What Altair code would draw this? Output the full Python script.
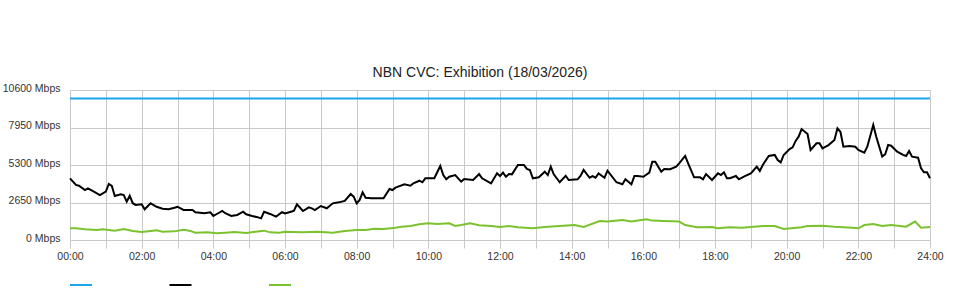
import altair as alt
import pandas as pd

# ---- data ----
series_names = ["Capacity", "Download", "Upload"]
series_colors = ["#1ba6ec", "#000000", "#7bc22e"]

capacity_times = ["00:00", "24:00"]
capacity_vals = [10000, 10000]

download_times = [
    "00:00", "00:10", "00:15", "00:25", "00:30", "00:40", "00:50", "01:00", "01:05", "01:10",
    "01:15", "01:25", "01:30", "01:35", "01:40", "01:45", "01:50", "02:00", "02:05", "02:15",
    "02:25", "02:35", "02:45", "02:55", "03:00", "03:10", "03:25", "03:30", "03:45", "03:55",
    "04:00", "04:05", "04:15", "04:20", "04:30", "04:40", "04:50", "04:55", "05:05", "05:15",
    "05:20", "05:25", "05:35", "05:45", "05:55", "06:00", "06:10", "06:15", "06:20", "06:30",
    "06:40", "06:45", "06:50", "07:00", "07:10", "07:20", "07:30", "07:40", "07:50", "07:55",
    "08:00", "08:05", "08:10", "08:15", "08:25", "08:45", "08:55", "09:00", "09:05", "09:20",
    "09:30", "09:35", "09:45", "09:50", "09:55", "10:10", "10:20", "10:25", "10:30", "10:35",
    "10:45", "10:55", "11:00", "11:15", "11:25", "11:30", "11:45", "11:55", "12:00", "12:05",
    "12:10", "12:15", "12:20", "12:30", "12:40", "12:45", "12:50", "12:55", "13:05", "13:15",
    "13:20", "13:25", "13:30", "13:40", "13:50", "13:55", "14:10", "14:15", "14:20", "14:30",
    "14:35", "14:40", "14:45", "14:55", "15:00", "15:15", "15:25", "15:30", "15:40", "15:45",
    "15:50", "16:00", "16:10", "16:15", "16:20", "16:30", "16:35", "16:45", "16:55", "17:00",
    "17:10", "17:15", "17:25", "17:35", "17:40", "17:45", "17:55", "18:05", "18:10", "18:15",
    "18:20", "18:25", "18:35", "18:40", "18:50", "19:00", "19:10", "19:15", "19:20", "19:30",
    "19:40", "19:45", "19:50", "19:55", "20:05", "20:10", "20:15", "20:20", "20:25", "20:35",
    "20:40", "20:50", "20:55", "21:00", "21:10", "21:20", "21:25", "21:30", "21:35", "21:45",
    "21:55", "22:00", "22:10", "22:15", "22:25", "22:30", "22:40", "22:45", "22:50", "22:55",
    "23:05", "23:15", "23:20", "23:25", "23:30", "23:40", "23:45", "23:50", "23:55", "24:00",
]
download_vals = [
    4360, 3890, 3840, 3530, 3650, 3415, 3180, 3415, 3960, 3820,
    3110, 3230, 3180, 2710, 3130, 2600, 2475, 2520, 2170, 2590,
    2350, 2210, 2170, 2280, 2350, 2120, 2120, 1960, 1890, 1960,
    1700, 1820, 2050, 1890, 1700, 1770, 2000, 1820, 1700, 1600,
    1530, 2000, 1840, 1650, 1960, 1870, 2000, 2070, 2520, 2050,
    2310, 2240, 2120, 2400, 2240, 2590, 2660, 2760, 3250, 3060,
    2590, 2830, 3370, 2990, 2950, 2950, 3600, 3530, 3700, 3930,
    3840, 4010, 4190, 4080, 4360, 4360, 5230, 4590, 4290, 4470,
    4590, 4120, 4310, 4240, 4660, 4360, 4000, 4710, 4520, 4760,
    4470, 4660, 4640, 5300, 5300, 5020, 4950, 4360, 4430, 4830,
    4590, 5180, 4640, 4080, 4540, 4240, 4290, 4540, 4950, 4400,
    4520, 4400, 4710, 4400, 4900, 4080, 3940, 4290, 3940, 4520,
    4520, 4470, 4760, 5530, 5530, 4830, 5020, 5000, 5180, 5420,
    5940, 5420, 4430, 4430, 4290, 4660, 4240, 4710, 4590, 4780,
    4360, 4360, 4520, 4290, 4520, 4710, 5180, 4880, 5300, 5940,
    6010, 5650, 5490, 6010, 6430, 6550, 7000, 7300, 7840, 7490,
    6360, 6830, 6830, 6480, 6710, 7070, 7890, 7650, 6590, 6640,
    6590, 6360, 6170, 6590, 8130, 7300, 5890, 6060, 6710, 6660,
    6240, 6010, 5940, 6290, 5890, 5820, 5070, 4780, 4780, 4360,
]

upload_times = [
    "00:00", "00:10", "00:25", "00:45", "00:55", "01:15", "01:30", "01:45", "02:00", "02:15",
    "02:25", "02:35", "02:55", "03:10", "03:20", "03:30", "03:50", "04:05", "04:20", "04:35",
    "04:55", "05:10", "05:25", "05:35", "05:50", "06:00", "06:30", "06:55", "07:20", "07:40",
    "08:00", "08:15", "08:30", "08:45", "09:05", "09:15", "09:30", "09:45", "10:00", "10:15",
    "10:35", "10:45", "10:55", "11:10", "11:25", "11:45", "12:00", "12:15", "12:30", "12:55",
    "13:15", "13:40", "14:05", "14:20", "14:47", "15:00", "15:25", "15:40", "16:05", "16:15",
    "16:35", "17:00", "17:10", "17:30", "17:55", "18:05", "18:25", "18:45", "19:20", "19:40",
    "19:55", "20:25", "20:35", "21:00", "21:20", "21:50", "22:00", "22:10", "22:25", "22:40",
    "22:55", "23:20", "23:35", "23:45", "24:00",
]
upload_vals = [
    830, 830, 760, 710, 760, 660, 780, 640, 570, 640,
    690, 590, 610, 730, 660, 520, 540, 470, 520, 565,
    495, 590, 660, 540, 520, 590, 540, 590, 520, 640,
    710, 710, 800, 780, 870, 940, 990, 1110, 1180, 1130,
    1180, 990, 1060, 1180, 1040, 990, 920, 990, 900, 830,
    920, 990, 1060, 920, 1340, 1300, 1410, 1300, 1460, 1370,
    1340, 1300, 1060, 900, 920, 830, 900, 870, 990, 990,
    780, 900, 990, 1010, 940, 870, 830, 1060, 1130, 990,
    1060, 940, 1300, 870, 920,
]

assert len(download_times) == len(download_vals)
assert len(upload_times) == len(upload_vals)

y_ticks = [0, 2650, 5300, 7950, 10600]
hour_ticks = list(range(0, 25))
title_text = "NBN CVC: Exhibition (18/03/2026)"


def to_hours(t):
    h, m = t.split(":")
    return int(h) + int(m) / 60.0


rows = []
for name, times, vals in [
    (series_names[0], capacity_times, capacity_vals),
    (series_names[1], download_times, download_vals),
    (series_names[2], upload_times, upload_vals),
]:
    for t, v in zip(times, vals):
        rows.append({"series": name, "hour": to_hours(t), "value": v})
df = pd.DataFrame(rows)

FONT = "Liberation Sans"
GRID = "#c9c9c9"

chart = (
    alt.Chart(df)
    .mark_line(strokeWidth=2, interpolate="linear")
    .encode(
        x=alt.X(
            "hour:Q",
            scale=alt.Scale(domain=[0, 24], nice=False, zero=False),
            axis=alt.Axis(
                title=None,
                values=hour_ticks,
                labelExpr="datum.value % 2 == 0 ? (datum.value < 10 ? '0' : '') + datum.value + ':00' : ''",
                grid=True,
                gridColor=GRID,
                gridWidth=1,
                ticks=True,
                tickColor=GRID,
                tickSize=8,
                domain=False,
                labelPadding=3,
                labelFont=FONT,
                labelFontSize=10.5,
                labelColor="#333333",
                labelFlush=False,
                labelOverlap=False,
            ),
        ),
        y=alt.Y(
            "value:Q",
            scale=alt.Scale(domain=[0, 10600], nice=False),
            axis=alt.Axis(
                title=None,
                values=y_ticks,
                labelExpr="datum.value + ' Mbps'",
                grid=True,
                gridColor=GRID,
                gridWidth=1,
                ticks=False,
                domain=False,
                labelPadding=10,
                labelOffset=-2,
                labelFont=FONT,
                labelFontSize=10.5,
                labelColor="#333333",
                labelOverlap=False,
            ),
        ),
        color=alt.Color(
            "series:N",
            scale=alt.Scale(domain=series_names, range=series_colors),
            legend=alt.Legend(
                title=None,
                orient="none",
                legendX=-1,
                legendY=183,
                direction="horizontal",
                symbolType="stroke",
                symbolSize=484,
                symbolStrokeWidth=2,
                labelExpr="''",
                labelOffset=0,
                columnPadding=69.5,
                padding=0,
            ),
        ),
        detail="series:N",
        order="hour:Q",
    )
    .properties(
        width=860,
        height=150,
        autosize=alt.AutoSizeParams(type="none"),
        padding={"left": 70, "top": 90, "right": 30, "bottom": 60},
        title=alt.TitleParams(
            text=title_text,
            font=FONT,
            fontSize=14,
            fontWeight="normal",
            color="#222222",
            anchor="middle",
            dx=-20,
            dy=22,
            baseline="alphabetic",
            offset=14,
        ),
    )
    .configure_view(stroke=GRID, strokeWidth=1)
    .configure(background="white")
)

chart.save("out.html", embed_options={"renderer": "svg", "actions": False})
